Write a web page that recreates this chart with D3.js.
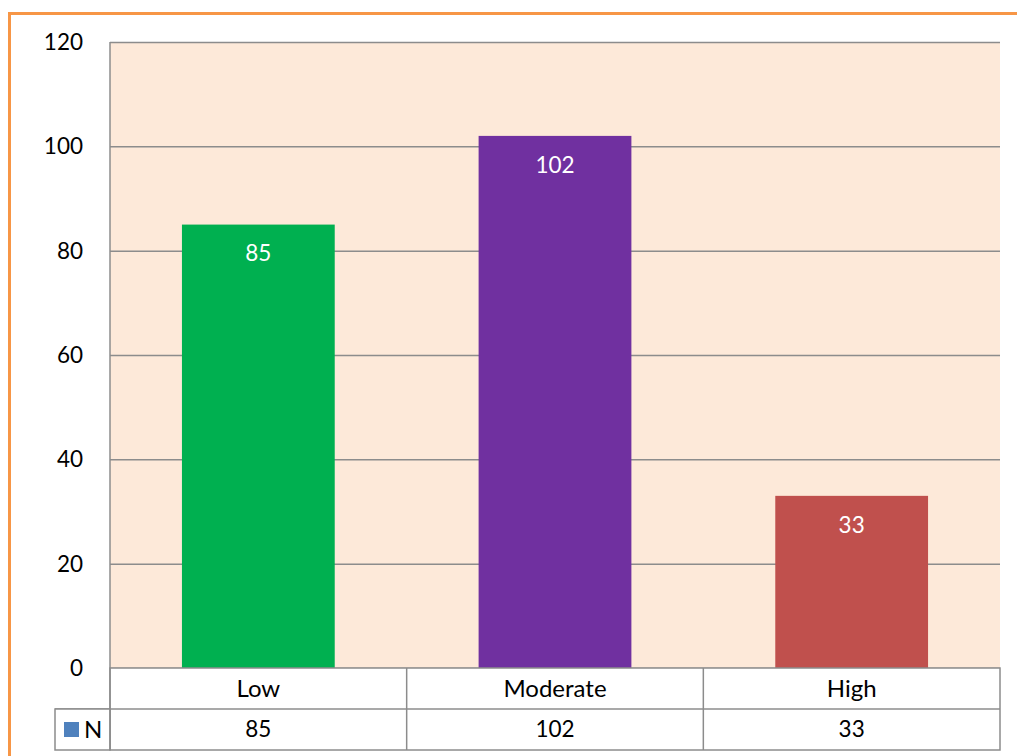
<!DOCTYPE html>
<html>
<head>
<meta charset="utf-8">
<script src="https://cdn.jsdelivr.net/npm/d3@7"></script>
<style>
  body { margin: 0; background: #fff; }
  text { font-family: Lato, "Open Sans", sans-serif; }
</style>
</head>
<body>
<svg id="chart" width="1017" height="756"></svg>
<script>
const categories = ["Low", "Moderate", "High"];
const values = [85, 102, 33];
const barColors = ["#00B050", "#7030A0", "#C0504D"];
const yTicks = [0, 20, 40, 60, 80, 100, 120];
const seriesName = "N";

const margin = { top: 42, left: 110, right: 17 };
const width = 1017 - margin.left - margin.right;
const height = 668 - margin.top;
const rowH = 41;
const numSize = 22.5, txtSize = 24;

const svg = d3.select("#chart");

// orange outer frame (runs off the right and bottom edges)
svg.append("rect")
    .attr("x", 9.5).attr("y", 13.5)
    .attr("width", 1100).attr("height", 900)
    .attr("fill", "none")
    .attr("stroke", "#F79646")
    .attr("stroke-width", 3);

const g = svg.append("g")
    .attr("transform", `translate(${margin.left}, ${margin.top})`);

const x = d3.scaleBand().domain(categories).range([0, width]).paddingInner(0.485).paddingOuter(0.2425);
const xCol = d3.scaleBand().domain(categories).range([0, width]);
const y = d3.scaleLinear().domain([0, 120]).range([height, 0]);

g.append("rect")
    .attr("width", width).attr("height", height)
    .attr("fill", "#FDE9D9");

// gridlines
g.selectAll(".grid")
    .data(yTicks)
    .join("line")
    .attr("x1", 0).attr("x2", width)
    .attr("y1", d => y(d) + 0.5).attr("y2", d => y(d) + 0.5)
    .attr("stroke", "#8C8C8C")
    .attr("stroke-width", 1.5);

// tick labels
g.selectAll(".ytick")
    .data(yTicks)
    .join("text")
    .attr("x", -27)
    .attr("y", d => y(d))
    .attr("dy", "0.35em")
    .attr("text-anchor", "end")
    .attr("font-size", numSize)
    .attr("fill", "#000")
    .text(d => d);

// bars
g.selectAll(".bar")
    .data(values)
    .join("rect")
    .attr("x", (d, i) => x(categories[i]))
    .attr("y", d => y(d))
    .attr("width", x.bandwidth())
    .attr("height", d => height - y(d))
    .attr("fill", (d, i) => barColors[i]);

g.selectAll(".val")
    .data(values)
    .join("text")
    .attr("x", (d, i) => x(categories[i]) + x.bandwidth() / 2)
    .attr("y", d => y(d) + 29)
    .attr("dy", "0.35em")
    .attr("text-anchor", "middle")
    .attr("font-size", numSize)
    .attr("fill", "#fff")
    .text(d => d);

// data table
const table = g.append("g").attr("transform", `translate(0, ${height})`);
const lineStyle = sel => sel.attr("stroke", "#8C8C8C").attr("stroke-width", 1.5);

table.append("rect").attr("x", 0).attr("y", 0).attr("width", width).attr("height", rowH * 2)
    .attr("fill", "#fff").call(lineStyle);
table.append("line").attr("x1", -55).attr("x2", width).attr("y1", rowH).attr("y2", rowH).call(lineStyle);
table.append("rect").attr("x", -55).attr("y", rowH).attr("width", 55).attr("height", rowH)
    .attr("fill", "#fff").call(lineStyle);
table.selectAll(".sep")
    .data(categories.slice(1))
    .join("line")
    .attr("x1", d => xCol(d)).attr("x2", d => xCol(d))
    .attr("y1", 0).attr("y2", rowH * 2)
    .call(lineStyle);
// left axis line running down through the table
g.append("line").attr("x1", 0).attr("x2", 0).attr("y1", 0).attr("y2", height + rowH * 2).call(lineStyle);

table.selectAll(".cat")
    .data(categories)
    .join("text")
    .attr("x", d => xCol(d) + xCol.bandwidth() / 2)
    .attr("y", rowH / 2)
    .attr("dy", "0.35em")
    .attr("text-anchor", "middle")
    .attr("font-size", txtSize)
    .text(d => d);

table.selectAll(".cell")
    .data(values)
    .join("text")
    .attr("x", (d, i) => xCol(categories[i]) + xCol.bandwidth() / 2)
    .attr("y", rowH * 1.5)
    .attr("dy", "0.35em")
    .attr("text-anchor", "middle")
    .attr("font-size", numSize)
    .text(d => d);

// legend key
table.append("rect").attr("x", -46).attr("y", rowH + 13).attr("width", 15).attr("height", 15).attr("fill", "#4F81BD");
table.append("text").attr("x", -26).attr("y", rowH * 1.5).attr("dy", "0.35em")
    .attr("font-size", txtSize).text(seriesName);
</script>
</body>
</html>
